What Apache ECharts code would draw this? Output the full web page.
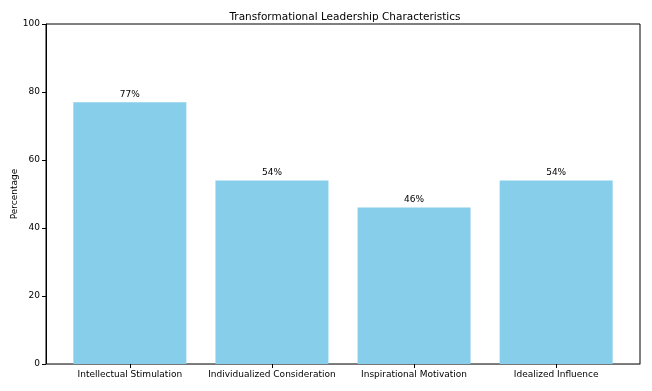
<!DOCTYPE html>
<html><head><meta charset="utf-8">
<script src="https://cdn.jsdelivr.net/npm/echarts@6/dist/echarts.min.js"></script>
<style>html,body{margin:0;padding:0;background:#fff}#c{width:652px;height:391px}</style>
</head><body><div id="c"></div>
<script>
const categories = ["Intellectual Stimulation", "Individualized Consideration", "Inspirational Motivation", "Idealized Influence"];
const values = [77, 54, 46, 54];
const yTicks = [0, 20, 40, 60, 80, 100];

const font = "DejaVu Sans";
const chart = echarts.init(document.getElementById('c'));
chart.setOption({
  animation: false,
  title: {text: "Transformational Leadership Characteristics", left: 340, top: 7, textAlign: 'center',
    textStyle: {fontFamily: font, fontSize: 10.5, fontWeight: 'normal', color: '#000'}},
  grid: {left: 46, right: 12, top: 24, bottom: 27, show: true, borderColor: '#000', borderWidth: 1,
    outerBoundsMode: 'none', containLabel: false},
  xAxis: {type: 'value', min: -0.59, max: 3.59,
    splitLine: {show: false},
    axisLine: {show: true, onZero: false, lineStyle: {color: '#777', width: 1}},
    axisTick: {show: true, customValues: [0,1,2,3], length: 4, lineStyle: {color: '#000'}},
    axisLabel: {customValues: [0,1,2,3], formatter: v => categories[Math.round(v)] || '',
      fontFamily: font, fontSize: 9, color: '#000', margin: 6}},
  yAxis: {type: 'value', min: 0, max: 100, interval: 20,
    name: 'Percentage', nameLocation: 'middle', nameGap: 27, nameMoveOverlap: false,
    nameTextStyle: {fontFamily: font, fontSize: 9, color: '#000'},
    splitLine: {show: false},
    axisLine: {show: true, onZero: false, lineStyle: {color: '#000', width: 1}},
    axisTick: {show: true, length: 4, lineStyle: {color: '#000'}},
    axisLabel: {fontFamily: font, fontSize: 9, color: '#000', margin: 6}},
  series: [{type: 'bar', data: values.map((v, i) => [i, v]), barWidth: 113,
    itemStyle: {color: '#87CEEB'},
    label: {show: true, position: 'top', distance: 3, formatter: p => p.value[1] + '%',
      fontFamily: font, fontSize: 9, color: '#000'}}]
});
</script></body></html>
